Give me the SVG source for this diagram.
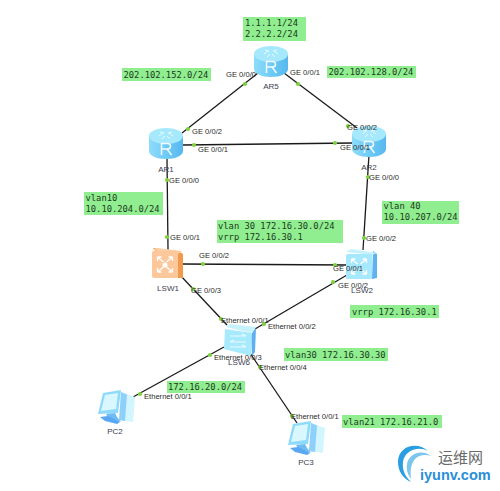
<svg xmlns="http://www.w3.org/2000/svg" xmlns:xlink="http://www.w3.org/1999/xlink" width="500" height="491" viewBox="0 0 500 491">
<style>
.l{font-family:"Liberation Sans",Arial,sans-serif;font-size:7.6px;fill:#2b2b2b}
.n{font-family:"Liberation Sans",Arial,sans-serif;font-size:8px;fill:#3c3c50;text-anchor:middle}
.m{font-family:"DejaVu Sans Mono","Liberation Mono",monospace;font-size:8.8px;fill:#1c3a1c}
.b{fill:#90ee90}
.c line{stroke:#1a1a1a;stroke-width:1.3}
.d circle{fill:#7ed23c;r:2.1px}
</style>
<defs>
<linearGradient id="rg" x1="0" x2="1" y1="0" y2="0"><stop offset="0" stop-color="#8fdcfb"/><stop offset="0.5" stop-color="#6fcbf6"/><stop offset="1" stop-color="#57b8ee"/></linearGradient>
<g id="router">
<path d="M0 8V23C0 27.500 7.600 31 17 31S34 27.500 34 23V8Z" fill="url(#rg)"/>
<ellipse cx="17" cy="8" rx="17" ry="8" fill="#a6e9fc"/>
<g fill="none" stroke="#e8fbff" stroke-width="1"><path d="M10 8l4-3M24 8l-4-3M13 11l3-3M21 11l-3-3M11 4l4 1M23 4l-4 1"/></g>
<path d="M12.500 27V15.500H18.500C22.500 15.500 22.500 21 18.500 21H12.500M18 21L22.500 27" fill="none" stroke="#f2fcff" stroke-width="1.500"/>
</g>
<g id="swbody-arrows" fill="none" stroke="#fff" stroke-width="1.300">
<path d="M5 7l6 5M5 7h4M5 7v4M20 7l-6 5M20 7h-4M20 7v4M5 22l6-5M5 22h4M5 22v-4M20 22l-6-5M20 22h-4M20 22v-4"/>
</g>
<g id="pc">
<path d="M24 3L38 8L36 33L22 31Z" fill="#d2f5fe"/>
<path d="M24 3L30 5.500L28 32L22 31Z" fill="#8fd0fb"/>
<path d="M6 4L24 1L21 24L1 25Z" fill="#8edafb"/>
<path d="M8 6L21 4L19 20L4 22Z" fill="#d8f7fe"/>
<path d="M9 25L18 24L20 28L24 33L12 30Z" fill="#6dbcf6"/>
<path d="M3 28L11 27L23 33L20 35L8 32Z" fill="#5aa8f2"/>
</g>
</defs>
<rect width="500" height="491" fill="#fff"/>
<g id="annotations">
<rect class="b" x="243" y="17" width="63" height="24"/>
<text class="m" x="245" y="25.500">1.1.1.1/24</text><text class="m" x="245" y="37">2.2.2.2/24</text>
<rect class="b" x="122" y="68" width="89" height="13"/>
<text class="m" x="123.500" y="77.500">202.102.152.0/24</text>
<rect class="b" x="327" y="66" width="89" height="12"/>
<text class="m" x="328.500" y="74.500">202.102.128.0/24</text>
<rect class="b" x="84" y="192" width="79" height="23"/>
<text class="m" x="85.500" y="200.500">vlan10</text><text class="m" x="85.500" y="212">10.10.204.0/24</text>
<rect class="b" x="382" y="201" width="77" height="23"/>
<text class="m" x="383.500" y="209">vlan 40</text><text class="m" x="383.500" y="220">10.10.207.0/24</text>
<rect class="b" x="217" y="220" width="126" height="23"/>
<text class="m" x="218" y="229">vlan 30 172.16.30.0/24</text><text class="m" x="218" y="240">vrrp 172.16.30.1</text>
<rect class="b" x="350" y="305" width="89" height="13"/>
<text class="m" x="352" y="314.500">vrrp 172.16.30.1</text>
<rect class="b" x="284" y="348" width="104" height="13"/>
<text class="m" x="285" y="357.500">vlan30 172.16.30.30</text>
<rect class="b" x="167" y="381" width="78" height="12"/>
<text class="m" x="168" y="389.500">172.16.20.0/24</text>
<rect class="b" x="342" y="415" width="100" height="13"/>
<text class="m" x="343" y="424.500">vlan21 172.16.21.0</text>
</g>
<g id="connectors" class="c">
<line x1="258" y1="73" x2="182" y2="133"/>
<line x1="284" y1="73" x2="357" y2="128"/>
<line x1="183" y1="145" x2="353" y2="143"/>
<line x1="167" y1="159" x2="168" y2="250"/>
<line x1="369" y1="155" x2="363" y2="250"/>
<line x1="182" y1="264" x2="347" y2="265"/>
<line x1="180" y1="275" x2="227" y2="325"/>
<line x1="347" y1="275" x2="255" y2="329"/>
<line x1="224" y1="347" x2="133" y2="397"/>
<line x1="250" y1="353" x2="297" y2="423"/>
</g>
<g id="AR5"><use xlink:href="#router" href="#router" x="254" y="46"/><text class="n" x="271" y="89">AR5</text></g>
<g id="AR1"><use xlink:href="#router" href="#router" x="149" y="128"/><text class="n" x="166" y="172">AR1</text></g>
<g id="AR2"><use xlink:href="#router" href="#router" x="352" y="126"/><text class="n" x="369" y="170">AR2</text></g>
<g id="LSW1">
<path d="M153 248L178 251L183 254V278L178 278Z" fill="#f09a4c"/>
<path d="M152 250L157 248L182 251L178 254Z" fill="#fcd0a4"/>
<rect x="152" y="251" width="26" height="27" rx="2" fill="#fcc79a"/>
<use xlink:href="#swbody-arrows" href="#swbody-arrows" x="152.500" y="250"/>
<circle cx="165" cy="265" r="2.500" fill="#fff"/>
<text class="n" x="168" y="291">LSW1</text>
</g>
<g id="LSW2">
<path d="M373 251L377 254V278L372 279Z" fill="#5fb2f0"/>
<path d="M346 252L351 249L377 253L372 255Z" fill="#c6f2fe"/>
<rect x="346" y="254" width="26" height="25" rx="1.500" fill="#a6e8fd"/>
<use xlink:href="#swbody-arrows" href="#swbody-arrows" x="346.500" y="252"/>
<text class="n" x="362" y="293">LSW2</text>
</g>
<g id="LSW6">
<path d="M254 330L256 328L255 352L252 356L251 335Z" fill="#5faef0"/>
<path d="M226 327L230 324L256 327L251 333Z" fill="#c6f2fe"/>
<path d="M225 329L252 333L251 356L224 349Z" fill="#a8eafd"/>
<path d="M230 336H246M246 336L242 334M230 342H246M230 342L234 340M230 347H246M246 347L242 345" fill="none" stroke="#e8fbff" stroke-width="1.200"/>
<text class="n" x="239" y="365">LSW6</text>
</g>
<g id="PC2"><use xlink:href="#pc" href="#pc" x="97" y="389"/><text class="n" x="115" y="434">PC2</text></g>
<g id="PC3"><use xlink:href="#pc" href="#pc" x="287" y="420"/><text class="n" x="306" y="465">PC3</text></g>
<g id="ports" class="d">
<circle cx="245" cy="84"/><circle cx="298" cy="84"/><circle cx="188" cy="129"/><circle cx="348" cy="126"/>
<circle cx="194" cy="145"/><circle cx="335" cy="143"/><circle cx="167" cy="180"/><circle cx="368" cy="177"/>
<circle cx="167" cy="237"/><circle cx="364" cy="238"/><circle cx="203" cy="264"/><circle cx="335" cy="265"/>
<circle cx="193" cy="289"/><circle cx="333" cy="282"/><circle cx="221" cy="319"/><circle cx="264" cy="324"/>
<circle cx="210" cy="355"/><circle cx="140" cy="394"/><circle cx="260" cy="367"/><circle cx="292" cy="416"/>
</g>
<g id="port-labels">
<text class="l" x="226" y="77">GE 0/0/0</text>
<text class="l" x="290" y="75">GE 0/0/1</text>
<text class="l" x="192" y="134">GE 0/0/2</text>
<text class="l" x="347" y="130">GE 0/0/2</text>
<text class="l" x="198" y="152">GE 0/0/1</text>
<text class="l" x="340" y="150">GE 0/0/1</text>
<text class="l" x="169" y="183">GE 0/0/0</text>
<text class="l" x="369" y="180">GE 0/0/0</text>
<text class="l" x="170" y="240">GE 0/0/1</text>
<text class="l" x="366" y="241">GE 0/0/2</text>
<text class="l" x="199" y="258">GE 0/0/2</text>
<text class="l" x="333" y="271">GE 0/0/1</text>
<text class="l" x="191" y="293">GE 0/0/3</text>
<text class="l" x="338" y="288">GE 0/0/2</text>
<text class="l" x="221" y="323">Ethernet 0/0/1</text>
<text class="l" x="268" y="329">Ethernet 0/0/2</text>
<text class="l" x="214" y="360">Ethernet 0/0/3</text>
<text class="l" x="144" y="399">Ethernet 0/0/1</text>
<text class="l" x="259" y="370">Ethernet 0/0/4</text>
<text class="l" x="291" y="419">Ethernet 0/0/1</text>
</g>
<g id="watermark">
<path d="M428 451C417 441 398 446 398 462C398 472 404 479 411 482C405 476 402 470 403 462C404 451 418 445 428 451Z" fill="#2a9ee0"/>
<path d="M431 456C422 449 409 453 407 464C406 470 408 475 411 479C410 470 411 464 415 459C419 455 425 454 431 456Z" fill="#7cc6ee"/>
<text x="438" y="463" font-family="'Noto Sans CJK SC',sans-serif" font-size="15" fill="#6a6a6a">运维网</text>
<text x="420" y="480" font-family="'Liberation Sans',Arial,sans-serif" font-size="14.500" font-weight="bold" fill="#2a8fd8">iyunv.com</text>
</g>
</svg>
